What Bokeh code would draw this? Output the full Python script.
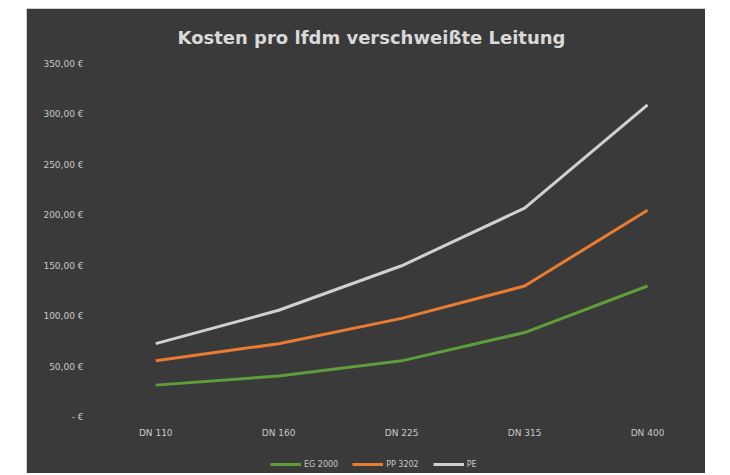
from bokeh.plotting import figure
from bokeh.models import Legend, LegendItem, Range1d, FixedTicker, Title
from bokeh.embed import file_html
from bokeh.resources import INLINE

categories = ["DN 110", "DN 160", "DN 225", "DN 315", "DN 400"]
series_names = ["EG 2000", "PP 3202", "PE"]
eg_2000 = [32, 41, 56, 84, 130]
pp_3202 = [56, 73, 98, 130, 205]
pe = [73, 106, 150, 207, 309]
y_ticks = [0, 50, 100, 150, 200, 250, 300, 350]
y_tick_labels = ["- €", "50,00 €", "100,00 €", "150,00 €", "200,00 €", "250,00 €", "300,00 €", "350,00 €"]

bg = "#3a3a3a"
xs = list(range(len(categories)))

p = figure(width=679, height=465, output_backend="svg", toolbar_location=None,
           x_range=Range1d(-0.49, 4.39), y_range=Range1d(-53.4, 350),
           min_border_left=69, min_border_right=10, min_border_top=55, min_border_bottom=2)
p.margin = (8, 0, 0, 26)
p.background_fill_color = bg
p.border_fill_color = bg
p.outline_line_color = bg
p.outline_line_width = 2
p.grid.visible = False

p.title = Title(text="Kosten pro lfdm verschweißte Leitung", align="left",
                text_color="#d9d9d9", text_font="DejaVu Sans", text_font_size="18px",
                text_font_style="bold", offset=82)
p.title.standoff = 32

p.xaxis.ticker = FixedTicker(ticks=xs)
p.xaxis.major_label_overrides = {i: c for i, c in enumerate(categories)}
p.xaxis.fixed_location = 0
p.yaxis.ticker = FixedTicker(ticks=y_ticks)
p.yaxis.major_label_overrides = {t: l for t, l in zip(y_ticks, y_tick_labels)}
for ax in (p.xaxis[0], p.yaxis[0]):
    ax.axis_line_color = None
    ax.major_tick_line_color = None
    ax.minor_tick_line_color = None
    ax.major_tick_out = 0
    ax.major_tick_in = 0
    ax.minor_tick_out = 0
    ax.minor_tick_in = 0
    ax.axis_label_standoff = 0
    ax.major_label_text_color = "#c8c8c8"
    ax.major_label_text_font = "DejaVu Sans"
    ax.major_label_text_font_size = "9px"
p.yaxis.major_label_standoff = 12
p.xaxis.major_label_standoff = 11

r1 = p.line(xs, eg_2000, line_color="#5f9c3a", line_width=3)
r2 = p.line(xs, pp_3202, line_color="#e97c30", line_width=3)
r3 = p.line(xs, pe, line_color="#d0d0d0", line_width=3)

legend = Legend(items=[LegendItem(label=n, renderers=[r]) for n, r in zip(series_names, [r1, r2, r3])],
                orientation="horizontal", location=(175, 2),
                background_fill_alpha=0, border_line_color=None,
                label_text_color="#c8c8c8", label_text_font="DejaVu Sans",
                label_text_font_size="8px", glyph_width=31, glyph_height=8,
                label_height=10, label_standoff=3, spacing=14, padding=1, margin=0)
p.add_layout(legend, "center")

open("out.html", "w").write(file_html(p, INLINE))
